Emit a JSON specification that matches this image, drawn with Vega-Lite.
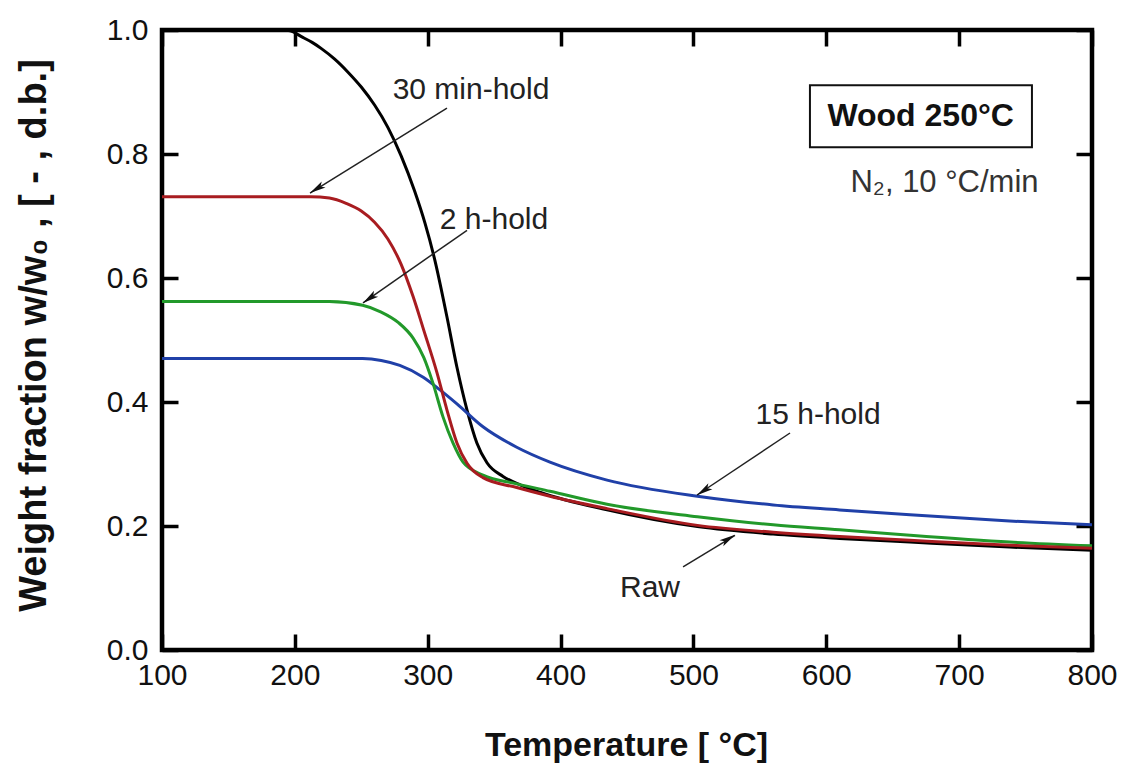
{
  "$schema": "https://vega.github.io/schema/vega-lite/v6.json",
  "width": 930,
  "height": 620,
  "autosize": "none",
  "padding": {"left": 162, "top": 30, "right": 30, "bottom": 117},
  "background": "white",
  "config": {
    "font": "Liberation Sans",
    "view": {"stroke": "black", "strokeWidth": 4.5},
    "axis": {"grid": false, "domain": false, "tickColor": "black", "tickWidth": 3.5, "tickSize": 16, "offset": -16, "labelFlush": false, "labelColor": "#111", "labelFont": "Liberation Sans", "labelFontSize": 30, "titleFont": "Liberation Sans", "titleColor": "#111", "titleFontWeight": "bold"}
  },
  "datasets": {
    "curves": [
      {"s": "Raw", "t": 100, "w": 1.0}, {"s": "Raw", "t": 150, "w": 1.0}, {"s": "Raw", "t": 195, "w": 0.999}, {"s": "Raw", "t": 206, "w": 0.988}, {"s": "Raw", "t": 213, "w": 0.98}, {"s": "Raw", "t": 220, "w": 0.97}, {"s": "Raw", "t": 230, "w": 0.953}, {"s": "Raw", "t": 240, "w": 0.932}, {"s": "Raw", "t": 250, "w": 0.908}, {"s": "Raw", "t": 260, "w": 0.879}, {"s": "Raw", "t": 270, "w": 0.843}, {"s": "Raw", "t": 280, "w": 0.797}, {"s": "Raw", "t": 290, "w": 0.741}, {"s": "Raw", "t": 298, "w": 0.688}, {"s": "Raw", "t": 305, "w": 0.632}, {"s": "Raw", "t": 314.5, "w": 0.537}, {"s": "Raw", "t": 322, "w": 0.456}, {"s": "Raw", "t": 329.6, "w": 0.387}, {"s": "Raw", "t": 337, "w": 0.334}, {"s": "Raw", "t": 344.6, "w": 0.302}, {"s": "Raw", "t": 356.7, "w": 0.28}, {"s": "Raw", "t": 370, "w": 0.266}, {"s": "Raw", "t": 385, "w": 0.254}, {"s": "Raw", "t": 435, "w": 0.226}, {"s": "Raw", "t": 503, "w": 0.199}, {"s": "Raw", "t": 560, "w": 0.187}, {"s": "Raw", "t": 610, "w": 0.18}, {"s": "Raw", "t": 663, "w": 0.174}, {"s": "Raw", "t": 738, "w": 0.166}, {"s": "Raw", "t": 800, "w": 0.161},
      {"s": "15 h-hold", "t": 100, "w": 0.47}, {"s": "15 h-hold", "t": 251, "w": 0.47}, {"s": "15 h-hold", "t": 265, "w": 0.467}, {"s": "15 h-hold", "t": 279, "w": 0.459}, {"s": "15 h-hold", "t": 296.6, "w": 0.44}, {"s": "15 h-hold", "t": 309, "w": 0.42}, {"s": "15 h-hold", "t": 322, "w": 0.397}, {"s": "15 h-hold", "t": 341.6, "w": 0.36}, {"s": "15 h-hold", "t": 367, "w": 0.327}, {"s": "15 h-hold", "t": 392, "w": 0.303}, {"s": "15 h-hold", "t": 435, "w": 0.274}, {"s": "15 h-hold", "t": 503, "w": 0.248}, {"s": "15 h-hold", "t": 560, "w": 0.234}, {"s": "15 h-hold", "t": 610, "w": 0.226}, {"s": "15 h-hold", "t": 663, "w": 0.218}, {"s": "15 h-hold", "t": 738, "w": 0.208}, {"s": "15 h-hold", "t": 800, "w": 0.202},
      {"s": "2 h-hold", "t": 100, "w": 0.562}, {"s": "2 h-hold", "t": 226, "w": 0.562}, {"s": "2 h-hold", "t": 251, "w": 0.556}, {"s": "2 h-hold", "t": 265, "w": 0.545}, {"s": "2 h-hold", "t": 278, "w": 0.528}, {"s": "2 h-hold", "t": 289, "w": 0.503}, {"s": "2 h-hold", "t": 297, "w": 0.472}, {"s": "2 h-hold", "t": 304, "w": 0.43}, {"s": "2 h-hold", "t": 311.5, "w": 0.376}, {"s": "2 h-hold", "t": 319, "w": 0.334}, {"s": "2 h-hold", "t": 326.6, "w": 0.303}, {"s": "2 h-hold", "t": 341.6, "w": 0.282}, {"s": "2 h-hold", "t": 367, "w": 0.268}, {"s": "2 h-hold", "t": 392, "w": 0.256}, {"s": "2 h-hold", "t": 435, "w": 0.235}, {"s": "2 h-hold", "t": 503, "w": 0.215}, {"s": "2 h-hold", "t": 560, "w": 0.202}, {"s": "2 h-hold", "t": 610, "w": 0.194}, {"s": "2 h-hold", "t": 663, "w": 0.185}, {"s": "2 h-hold", "t": 738, "w": 0.174}, {"s": "2 h-hold", "t": 800, "w": 0.168},
      {"s": "30 min-hold", "t": 100, "w": 0.731}, {"s": "30 min-hold", "t": 212, "w": 0.731}, {"s": "30 min-hold", "t": 226, "w": 0.729}, {"s": "30 min-hold", "t": 239, "w": 0.72}, {"s": "30 min-hold", "t": 250, "w": 0.708}, {"s": "30 min-hold", "t": 260, "w": 0.69}, {"s": "30 min-hold", "t": 270, "w": 0.663}, {"s": "30 min-hold", "t": 280, "w": 0.622}, {"s": "30 min-hold", "t": 289, "w": 0.57}, {"s": "30 min-hold", "t": 297, "w": 0.516}, {"s": "30 min-hold", "t": 307, "w": 0.447}, {"s": "30 min-hold", "t": 314.5, "w": 0.387}, {"s": "30 min-hold", "t": 322, "w": 0.334}, {"s": "30 min-hold", "t": 329.6, "w": 0.301}, {"s": "30 min-hold", "t": 341.6, "w": 0.278}, {"s": "30 min-hold", "t": 367, "w": 0.262}, {"s": "30 min-hold", "t": 392, "w": 0.248}, {"s": "30 min-hold", "t": 435, "w": 0.228}, {"s": "30 min-hold", "t": 503, "w": 0.201}, {"s": "30 min-hold", "t": 560, "w": 0.19}, {"s": "30 min-hold", "t": 610, "w": 0.183}, {"s": "30 min-hold", "t": 663, "w": 0.177}, {"s": "30 min-hold", "t": 738, "w": 0.169}, {"s": "30 min-hold", "t": 800, "w": 0.164}
    ],
    "arrows": [
      {"label": "30 min-hold", "x1": 314.5, "y1": 0.874, "x2": 211.4, "y2": 0.737, "hx": 216.5, "hy": 0.744, "heading": 238.2},
      {"label": "2 h-hold", "x1": 329.6, "y1": 0.677, "x2": 251.3, "y2": 0.56, "hx": 256.2, "hy": 0.567, "heading": 234.9},
      {"label": "15 h-hold", "x1": 572.7, "y1": 0.35, "x2": 502.7, "y2": 0.25, "hx": 507.7, "hy": 0.257, "heading": 236.3},
      {"label": "Raw", "x1": 492.2, "y1": 0.134, "x2": 531.3, "y2": 0.185, "hx": 526.2, "hy": 0.179, "heading": 58.4}
    ],
    "notes": [
      {"text": "30 min-hold", "x": 332.6, "y": 0.903},
      {"text": "2 h-hold", "x": 349.9, "y": 0.694},
      {"text": "15 h-hold", "x": 593.8, "y": 0.379},
      {"text": "Raw", "x": 467.3, "y": 0.1}
    ],
    "box": [{"x": 587.7, "x2": 754.8, "y": 0.811, "y2": 0.911, "title": "Wood 250°C", "cx": 671, "cy": 0.861, "sub": "N₂, 10 °C/min", "sx": 689, "sy": 0.753}]
  },
  "resolve": {"axis": {"x": "independent", "y": "independent"}},
  "layer": [
    {
      "data": {"name": "curves"},
      "mark": {"type": "line", "strokeWidth": 3, "interpolate": "monotone", "clip": true},
      "encoding": {
        "x": {"field": "t", "type": "quantitative", "scale": {"domain": [100, 800], "nice": false, "zero": false},
              "axis": {"orient": "bottom", "values": [100, 200, 300, 400, 500, 600, 700, 800], "labelPadding": 10, "title": "Temperature [ °C]", "titleFontSize": 34, "titleX": 464, "titleY": 111, "titleBaseline": "middle", "titleAlign": "center"}},
        "y": {"field": "w", "type": "quantitative", "scale": {"domain": [0, 1], "nice": false},
              "axis": {"orient": "left", "values": [0, 0.2, 0.4, 0.6, 0.8, 1.0], "format": ".1f", "labelPadding": 14, "title": "Weight fraction w/w₀ , [ - , d.b.]", "titleFontSize": 38, "titleX": -144, "titleY": 305, "titleBaseline": "middle", "titleAlign": "center", "titleAngle": 270}},
        "color": {"field": "s", "type": "nominal", "legend": null,
                  "scale": {"domain": ["Raw", "15 h-hold", "2 h-hold", "30 min-hold"], "range": ["#000000", "#2040a8", "#22992a", "#a81c20"]}}
      }
    },
    {
      "data": {"name": "arrows"},
      "mark": {"type": "rule", "color": "#222", "strokeWidth": 1.5},
      "encoding": {
        "x": {"field": "x1", "type": "quantitative", "axis": {"orient": "top", "values": [100, 200, 300, 400, 500, 600, 700, 800], "labels": false, "title": null}},
        "y": {"field": "y1", "type": "quantitative", "axis": {"orient": "right", "values": [0, 0.2, 0.4, 0.6, 0.8, 1.0], "labels": false, "title": null}},
        "x2": {"field": "x2"},
        "y2": {"field": "y2"}
      }
    },
    {
      "data": {"name": "arrows"},
      "mark": {"type": "point", "shape": "M0,-1L0.45,1L0,0.55L-0.45,1Z", "filled": true, "color": "#111", "size": 260, "opacity": 1},
      "encoding": {
        "x": {"field": "hx", "type": "quantitative", "axis": null},
        "y": {"field": "hy", "type": "quantitative", "axis": null},
        "angle": {"field": "heading", "type": "quantitative", "scale": null}
      }
    },
    {
      "data": {"name": "notes"},
      "mark": {"type": "text", "fontSize": 30, "color": "#222", "align": "center", "baseline": "middle"},
      "encoding": {
        "x": {"field": "x", "type": "quantitative", "axis": null},
        "y": {"field": "y", "type": "quantitative", "axis": null},
        "text": {"field": "text"}
      }
    },
    {
      "data": {"name": "box"},
      "mark": {"type": "rect", "fill": "white", "stroke": "#111", "strokeWidth": 2},
      "encoding": {
        "x": {"field": "x", "type": "quantitative", "axis": null},
        "x2": {"field": "x2"},
        "y": {"field": "y", "type": "quantitative", "axis": null},
        "y2": {"field": "y2"}
      }
    },
    {
      "data": {"name": "box"},
      "mark": {"type": "text", "fontSize": 32, "fontWeight": "bold", "color": "#111", "align": "center", "baseline": "middle"},
      "encoding": {
        "x": {"field": "cx", "type": "quantitative", "axis": null},
        "y": {"field": "cy", "type": "quantitative", "axis": null},
        "text": {"field": "title"}
      }
    },
    {
      "data": {"name": "box"},
      "mark": {"type": "text", "fontSize": 31, "color": "#333", "align": "center", "baseline": "middle"},
      "encoding": {
        "x": {"field": "sx", "type": "quantitative", "axis": null},
        "y": {"field": "sy", "type": "quantitative", "axis": null},
        "text": {"field": "sub"}
      }
    }
  ]
}
